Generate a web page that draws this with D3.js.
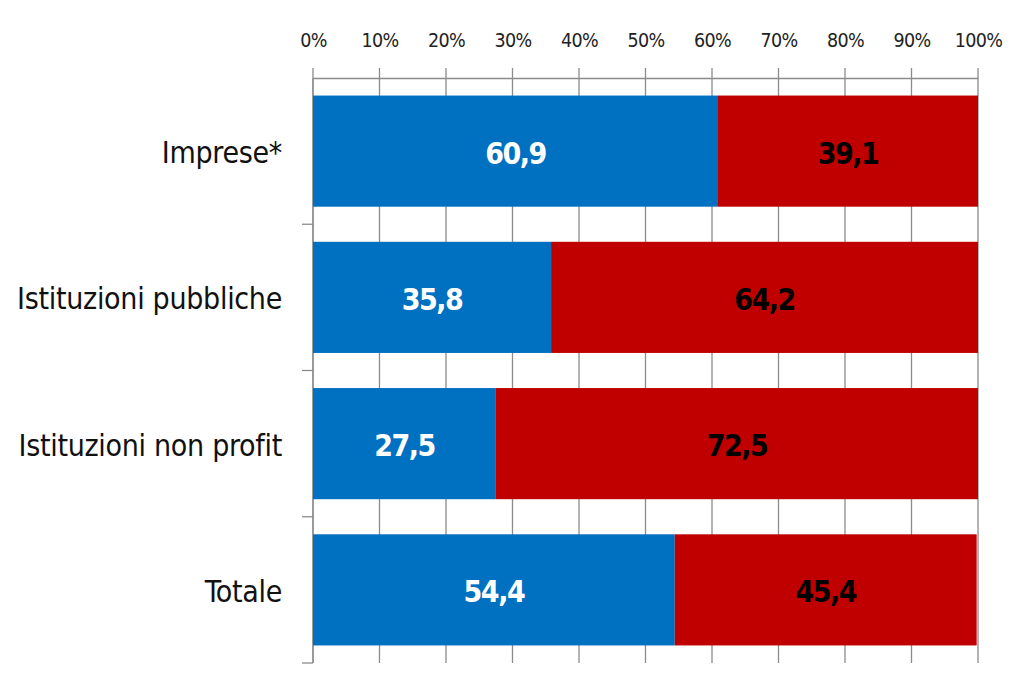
<!DOCTYPE html>
<html><head><meta charset="utf-8">
<script src="https://cdn.jsdelivr.net/npm/d3@7"></script>
<style>body{margin:0;background:#fff}</style>
</head><body>
<svg id="c" width="1024" height="697"></svg>
<script>
const categories = ["Imprese*", "Istituzioni pubbliche", "Istituzioni non profit", "Totale"];
const blueValues = [60.9, 35.8, 27.5, 54.4];
const redValues = [39.1, 64.2, 72.5, 45.4];
const tickValues = [0,10,20,30,40,50,60,70,80,90,100];

(function(){
const svg = d3.select("#c");
const pL = 313, pR = 978, pT = 78, pB = 663;
const font = "'Liberation Sans Narrow', 'Arial Narrow', 'DejaVu Sans Condensed', sans-serif";

const x = d3.scaleLinear().domain([0,100]).range([pL,pR]);
const y = d3.scaleBand().domain(categories).range([pT,pB]).paddingInner(0.24).paddingOuter(0.12);

// gridlines
svg.append("g").selectAll("line").data(tickValues).join("line")
  .attr("x1", d=>x(d)).attr("x2", d=>x(d)).attr("y1", pT-10).attr("y2", pB)
  .attr("stroke", "#8c8c8c").attr("stroke-width", 1.3);

// top axis
const xAxis = d3.axisTop(x).tickValues(tickValues).tickFormat(d=>d+"%").tickSize(0).tickPadding(0);
const gx = svg.append("g").attr("transform", `translate(0,${pT})`).call(xAxis);
gx.select(".domain").attr("stroke","#8c8c8c").attr("stroke-width",1.3);
gx.selectAll("text").attr("y", -31).attr("font-family", font).attr("font-size", 19.5)
  .attr("letter-spacing", -0.6).attr("fill","#222");

// left axis
const yBounds = d3.range(categories.length+1).map(i => pT + i*(pB-pT)/categories.length);
svg.append("line").attr("x1",pL).attr("x2",pL).attr("y1",pT).attr("y2",pB).attr("stroke","#8c8c8c").attr("stroke-width",1.3);
svg.append("g").selectAll("line").data(yBounds.slice(1)).join("line")
  .attr("x1", pL-11).attr("x2", pL).attr("y1", d=>d).attr("y2", d=>d)
  .attr("stroke","#8c8c8c").attr("stroke-width",1.3);

// bars
const rows = categories.map((c,i)=>({c, b: blueValues[i], r: redValues[i]}));
const g = svg.append("g");
g.selectAll("rect.b").data(rows).join("rect").attr("class","b")
  .attr("x", x(0)).attr("y", d=>y(d.c)).attr("width", d=>x(d.b)-x(0)).attr("height", y.bandwidth())
  .attr("fill", "#0070C0");
g.selectAll("rect.r").data(rows).join("rect").attr("class","r")
  .attr("x", d=>x(d.b)).attr("y", d=>y(d.c)).attr("width", d=>x(d.b+d.r)-x(d.b)).attr("height", y.bandwidth())
  .attr("fill", "#C00000");

const fmt = v => v.toFixed(1).replace(".", ",");
g.selectAll("text.b").data(rows).join("text").attr("class","b")
  .attr("x", d=>x(d.b/2)).attr("y", d=>y(d.c)+y.bandwidth()/2).attr("dy","0.42em")
  .attr("text-anchor","middle").attr("font-family",font).attr("font-weight","bold").attr("font-size",30)
  .attr("letter-spacing", -1.5).attr("fill","#fff").text(d=>fmt(d.b));
g.selectAll("text.r").data(rows).join("text").attr("class","r")
  .attr("x", d=>x(d.b + d.r/2)).attr("y", d=>y(d.c)+y.bandwidth()/2).attr("dy","0.42em")
  .attr("text-anchor","middle").attr("font-family",font).attr("font-weight","bold").attr("font-size",30)
  .attr("letter-spacing", -1.5).attr("fill","#000").text(d=>fmt(d.r));

// category labels
svg.append("g").selectAll("text").data(categories).join("text")
  .attr("x", 282).attr("y", d=>y(d)+y.bandwidth()/2).attr("dy","0.4em")
  .attr("text-anchor","end").attr("font-family",font).attr("font-size",30)
  .attr("letter-spacing", -0.3).attr("fill","#111").text(d=>d);
})();
</script>
</body></html>
